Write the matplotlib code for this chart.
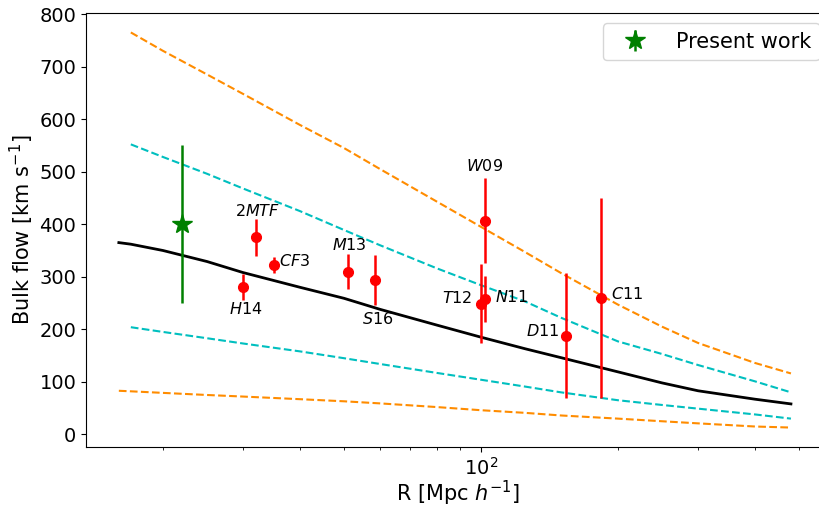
import numpy as np
import matplotlib
matplotlib.use("Agg")
from matplotlib import pyplot as plt

# model curves: mean bulk flow and the 1/2 sigma envelopes
R = [16, 17, 20, 25, 30, 40, 50, 60, 80, 100, 125, 150, 200, 250, 300, 400, 480]
v_mean = [365, 362, 350, 329, 308, 280, 259, 238, 208, 185, 163, 146, 119, 98, 83, 67, 58]
v_1s_up = [np.nan, 552, 528, 496, 468, 425, 389, 360, 316, 284, 253, 222, 177, 153, 132, 101, 80]
v_1s_lo = [np.nan, 204, 195, 183, 173, 158, 145, 134, 117, 104, 91, 80, 65, 56, 49, 38, 30]
v_2s_up = [np.nan, 765, 730, 685, 648, 589, 545, 505, 443, 395, 347, 307, 247, 205, 174, 136, 116]
v_2s_lo = [83, 82, 79, 75, 72, 67, 63, 59, 52, 46, 41, 36, 30, 25, 21, 15, 13]

# published measurements
names = ['$W09$', '$T12$', '$N11$', '$D11$', '$C11$', '$M13$', '$S16$', '$H14$', '$CF3$', '2$MTF$']
R_obs = [102, 100, 102, 154, 184, 51, 58.5, 30, 35, 32]
v_obs = [407, 249, 257, 188, 260, 310, 294, 280, 322, 375]
e_obs = [81, 76, 44, 119, 190, 34, 48, 25, 15, 35]

# this work
R_pw = [22]
v_pw = [400]
e_pw = [150]

# label offsets (points) and alignment for each measurement
lab_off = [(0, 39), (-6, 4), (7, 2), (-5, 3), (7, 3), (1, 19), (2, -28), (2, -16), (4, 3), (1, 19)]
lab_ha = ['center', 'right', 'left', 'right', 'left', 'center', 'center', 'center', 'left', 'center']

fig = plt.figure(figsize=(8.19, 5.07), dpi=100)
ax = fig.add_axes([86/819, 1 - 447/507, 744/819, (447 - 13)/507])

ax.plot(R, v_2s_up, '--', color='darkorange', lw=1.5)
ax.plot(R, v_1s_up, '--', color='c', lw=1.5)
ax.plot(R, v_mean, '-', color='k', lw=2)
ax.plot(R, v_1s_lo, '--', color='c', lw=1.5)
ax.plot(R, v_2s_lo, '--', color='darkorange', lw=1.5)

ax.errorbar(R_obs, v_obs, yerr=e_obs, fmt='o', color='red', ms=7, elinewidth=1.8)
for i in range(len(names)):
	ax.annotate(names[i], (R_obs[i], v_obs[i]), xytext=lab_off[i], textcoords='offset points',
		ha=lab_ha[i], va='center', fontsize=11.5)

ax.errorbar(R_pw, v_pw, yerr=e_pw, fmt='*', color='green', ms=15, elinewidth=1.8, label='Present work')

ax.set_xscale('log')
ax.set_xlim(13.55, 13.55 * 10 ** (744 / 455))
ax.set_ylim(-24, 802)
ax.set_yticks(np.arange(0, 801, 100))
ax.tick_params(labelsize=14)
ax.set_xlabel('R [Mpc $h^{-1}$]', fontsize=15, labelpad=0)
ax.set_ylabel('Bulk flow [km s$^{-1}$]', fontsize=15, labelpad=2)
ax.legend(loc='upper right', fontsize=15, handlelength=2.3)

plt.savefig('out.png', dpi=100)
